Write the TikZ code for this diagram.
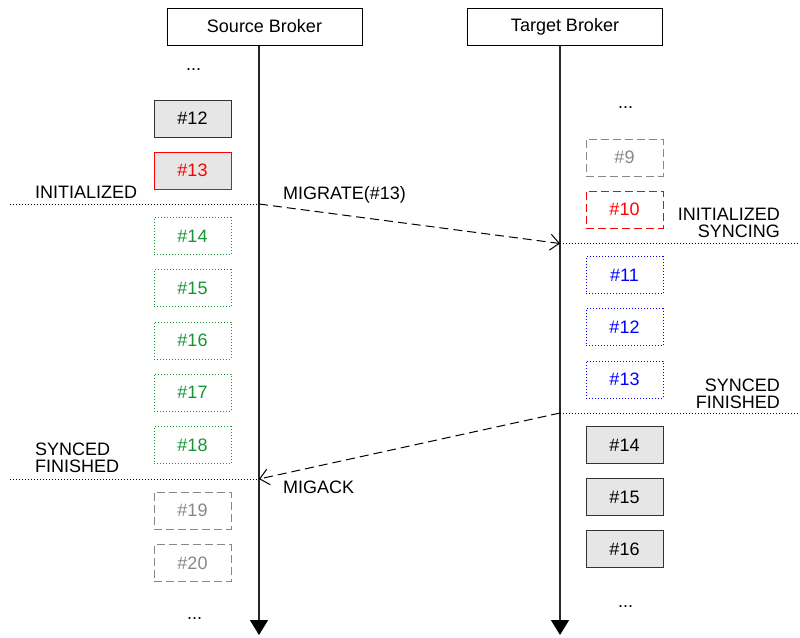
\documentclass[tikz,border=0pt]{standalone}
\usepackage{fontspec}
\setmainfont{Liberation Sans}
\usetikzlibrary{arrows.meta,positioning}
\definecolor{ackgray}{RGB}{230,230,230}
\definecolor{migred}{RGB}{255,0,0}
\definecolor{pendgreen}{RGB}{20,150,50}
\definecolor{syncblue}{RGB}{0,0,255}
\definecolor{idlegray}{RGB}{135,135,135}

\begin{document}
\begin{tikzpicture}[x=1pt, y=-1pt,
  font=\fontsize{18}{17}\selectfont,
  broker/.style={draw, line width=1pt, minimum width=195pt, minimum height=37pt, inner sep=0pt},
  msgbox/.style={minimum width=77pt, minimum height=37pt, inner sep=0pt, line width=1pt},
  acked/.style={msgbox, draw=black!80, fill=ackgray},
  migrated/.style={msgbox, draw=migred, fill=ackgray, text=migred},
  pending/.style={msgbox, draw=pendgreen, dotted, text=pendgreen},
  syncbox/.style={msgbox, draw=syncblue, dotted, text=syncblue},
  idle/.style={msgbox, draw=idlegray, dash pattern=on 8pt off 4pt, text=idlegray},
  redidle/.style={msgbox, draw=migred, dash pattern=on 8pt off 4pt, text=migred},
  lifeline/.style={line width=1.5pt, draw=black!85, -{Triangle[length=15pt,width=18pt,black]}},
  cut/.style={line width=1pt, dotted},
  call/.style={line width=1pt, dash pattern=on 9pt off 5pt, -{Straight Barb[length=9pt,width=16pt]}},
  state/.style={inner sep=0pt}]
\useasboundingbox (0,0) rectangle (800,637);

% brokers and lifelines
\node[broker] (src) at (264.5,26.5) {Source Broker};
\node[broker] (tgt) at (565,26.5) {Target Broker};
\coordinate (srcend) at (259,635);
\coordinate (tgtend) at (560,635);
\draw[lifeline] (src.south -| srcend) -- (srcend);
\draw[lifeline] (tgt.south -| tgtend) -- (tgtend);

% source broker messages
\node[anchor=base] (srcdotsa) at (193.5,70) {...};
\node[acked] (s12) at (192.5,118.5) {\#12};
\node[migrated] (s13) at (192.5,170.5) {\#13};
\foreach \n [count=\i from 0] in {14,...,18}
  \node[pending] (s\n) at (192.5,236+52.25*\i) {\#\n};
\node[idle] (s19) at (192.5,510.5) {\#19};
\node[idle] (s20) at (192.5,563) {\#20};
\node[anchor=base] (srcdotsb) at (194.5,619) {...};

% target broker messages
\node[anchor=base] (tgtdotsa) at (625.5,108) {...};
\node[idle] (t9) at (624.5,157.5) {\#9};
\node[redidle] (t10) at (624.5,209.5) {\#10};
\foreach \n [count=\i from 0] in {11,12,13}
  \node[syncbox] (t\n) at (624.5,275+52.25*\i) {\#\n};
\foreach \n [count=\i from 0] in {14,15,16}
  \node[acked] (t\n) at (624.5,445+52*\i) {\#\n};
\node[anchor=base] (tgtdotsb) at (625.5,607) {...};

% state cuts
\coordinate (srcinitl) at (10,204);
\coordinate (srcinit) at (259,204);
\coordinate (tgtinit) at (560,243.5);
\coordinate (tgtinitr) at (800,243.5);
\coordinate (tgtsync) at (560,413);
\coordinate (tgtsyncr) at (800,413);
\coordinate (srcsyncl) at (10,479);
\coordinate (srcsync) at (259,479);
\draw[cut] (srcinitl) -- (srcinit);
\draw[cut] (tgtinit) -- (tgtinitr);
\draw[cut] (tgtsync) -- (tgtsyncr);
\draw[cut] (srcsyncl) -- (srcsync);

\node[state, anchor=north west] (srcinitlbl) at (35,186) {INITIALIZED};
\node[state, anchor=north east, align=right] (tgtinitlbl) at (780,208) {INITIALIZED\\SYNCING};
\node[state, anchor=north east, align=right] (tgtsynclbl) at (780,378.5) {SYNCED\\FINISHED};
\node[state, anchor=north west, align=left] (srcsynclbl) at (35,443) {SYNCED\\FINISHED};

% calls
\draw[call] (srcinit) -- (tgtinit);
\draw[call] (tgtsync) -- (srcsync);
\node[state, anchor=base west] (migrate) at (283,199.5) {MIGRATE(\#13)};
\node[state, anchor=base west] (migack) at (283,493) {MIGACK};
\end{tikzpicture}
\end{document}
